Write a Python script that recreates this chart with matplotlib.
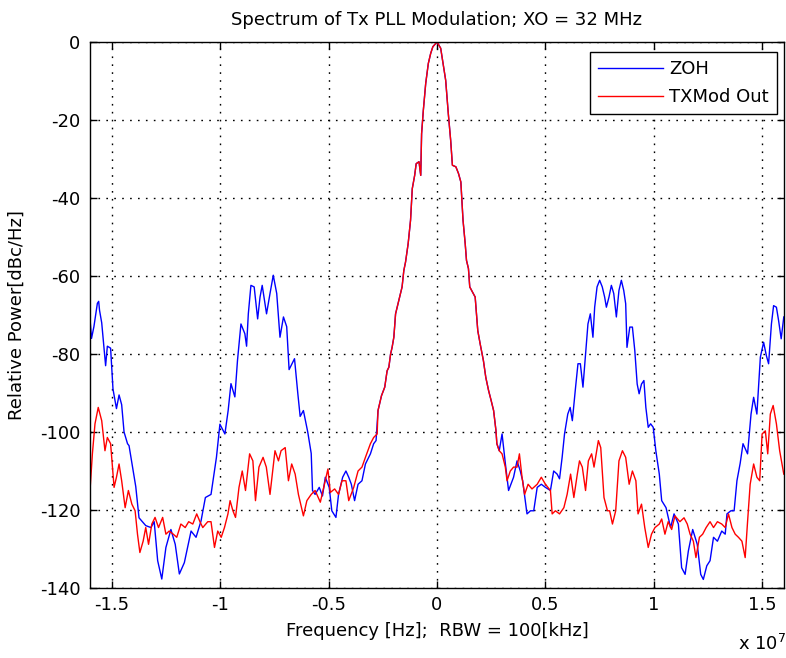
import numpy as np
import matplotlib
matplotlib.use("Agg")
import matplotlib.pyplot as plt

# ---------------- data (frequency in MHz, power in dBc/Hz) ----------------
# ZOH trace, left of the main lobe
zoh_left_f = [-16.0, -15.93, -15.82, -15.66, -15.60, -15.56, -15.46, -15.36, -15.28, -15.20,
              -15.05, -14.94, -14.78, -14.66, -14.54, -14.43, -14.27, -14.20, -14.04, -13.89,
              -13.74, -13.43, -13.19, -13.04, -12.88, -12.69, -12.50, -12.27, -12.07, -11.88,
              -11.65, -11.50, -11.34, -11.11, -10.88, -10.68, -10.42, -10.26, -10.17, -10.01,
              -9.78, -9.63, -9.50, -9.32, -9.20, -9.04, -8.86, -8.78, -8.70, -8.58,
              -8.43, -8.27, -8.16, -8.06, -7.86, -7.70, -7.55, -7.39, -7.24, -7.08,
              -6.93, -6.82, -6.57, -6.42, -6.31, -6.16, -5.96, -5.80, -5.74, -5.62,
              -5.43, -5.28, -5.15, -4.97, -4.85, -4.66, -4.54, -4.35, -4.20, -4.07,
              -3.95, -3.80, -3.64, -3.46, -3.30, -3.07, -2.92, -2.81]
zoh_left_db = [-71, -76, -73, -67, -66.5, -68.8, -72, -78, -83, -78,
               -78.5, -89, -94, -90.5, -93, -100, -103, -103.5, -109, -114,
               -122, -124, -124.5, -123, -133, -137.7, -129.6, -125, -128.8, -136.4,
               -133.5, -129.6, -125.4, -127, -122.8, -116.8, -116, -110, -106.5, -98,
               -100.5, -94.5, -87.6, -91, -81.7, -72.3, -74.8, -78, -69.7, -62.4,
               -62.8, -71, -65.4, -62.4, -69.7, -64.5, -59.8, -64.5, -75.7, -70.5,
               -73, -84, -81.2, -90, -96, -94.5, -100, -105.5, -115, -116,
               -114.2, -116.4, -111.6, -114.2, -120.2, -121.9, -116, -111.6, -110, -111.6,
               -113.4, -117.6, -113.4, -112.5, -108.2, -105.6, -103, -102.2]

# main lobe, where both traces coincide
core_f = [-2.72, -2.56, -2.41, -2.30, -2.22, -2.14, -2.07, -1.99, -1.91, -1.76,
          -1.68, -1.61, -1.53, -1.45, -1.33, -1.22, -1.14, -1.03, -0.96, -0.83,
          -0.75, -0.71, -0.63, -0.52, -0.40, -0.29, -0.19, 0.0, 0.17, 0.28,
          0.40, 0.52, 0.63, 0.71, 0.87, 0.99, 1.10, 1.14, 1.20, 1.30,
          1.36, 1.45, 1.51, 1.76, 1.88, 1.99, 2.14, 2.25, 2.38, 2.50,
          2.61, 2.72, 2.76, 2.87]
core_db = [-94.5, -90.7, -88.5, -84.3, -83.4, -80, -78.3, -75.7, -69.7, -66.3,
           -64.5, -62.8, -58.6, -56.4, -51.7, -45.7, -37.6, -34.2, -31.2, -30.7,
           -34.2, -23.5, -17.5, -10.6, -5.5, -2.9, -1.2, 0.0, -1.6, -5.5,
           -9.8, -18.3, -25.2, -31.6, -32, -33.7, -35.9, -39.7, -45.7, -51.7,
           -56, -58.1, -62.8, -65.4, -74, -77.4, -81.7, -86, -89.4, -92,
           -94.5, -99.7, -103, -104.8]

# ZOH trace, right of the main lobe
zoh_right_f = [3.00, 3.15, 3.30, 3.53, 3.69, 3.84, 3.95, 4.15, 4.31, 4.46,
               4.62, 4.81, 5.00, 5.23, 5.38, 5.54, 5.65, 5.77, 5.88, 6.03,
               6.14, 6.24, 6.39, 6.50, 6.61, 6.73, 6.85, 6.96, 7.07, 7.19,
               7.27, 7.38, 7.50, 7.62, 7.73, 7.81, 7.93, 8.04, 8.15, 8.27,
               8.39, 8.50, 8.61, 8.70, 8.76, 8.89, 9.01, 9.12, 9.23, 9.32,
               9.43, 9.54, 9.63, 9.74, 9.85, 9.97, 10.09, 10.25, 10.36, 10.56,
               10.77, 10.93, 11.13, 11.28, 11.44, 11.59, 11.79, 12.00, 12.16, 12.28,
               12.44, 12.59, 12.75, 12.93, 13.13, 13.29, 13.37, 13.55, 13.70, 13.83,
               13.98, 14.11, 14.32, 14.48, 14.60, 14.75, 14.91, 15.06, 15.19, 15.29,
               15.42, 15.52, 15.65, 15.75, 15.87, 15.99]
zoh_right_db = [-100.5, -108, -115, -111.6, -107.4, -110, -112.5, -121, -120.2, -120.2,
                -114.2, -113.4, -114.2, -115, -110, -110.8, -112, -106.5, -100.5, -95.4,
                -93.7, -97.1, -88.5, -82.5, -82.5, -88.5, -80, -72.3, -69.7, -75.7,
                -68, -62.8, -61.1, -62.8, -65.4, -68, -65.4, -62.4, -64.5, -70.5,
                -63.7, -61.1, -63.7, -67.1, -78.3, -73.1, -73.1, -79.1, -87.7, -90.2,
                -87.7, -86.8, -93.7, -98.8, -97.9, -98.8, -104.8, -110.8, -117.6, -119.4,
                -124.5, -121, -123.6, -134.8, -136.5, -130.5, -125, -128.8, -136.5, -137.8,
                -134.3, -133, -127, -128, -125.4, -126.2, -121, -120.2, -120.2, -112.5,
                -108, -103, -105.6, -95.4, -91.1, -95.4, -80.8, -77, -80.5, -82.5,
                -72.3, -67.6, -68, -71.4, -76.1, -70.5]

# TXMod Out trace, left of the main lobe
txmod_left_f = [-16.0, -15.89, -15.77, -15.62, -15.46, -15.31, -15.20, -15.05, -14.89, -14.78,
                -14.66, -14.54, -14.38, -14.23, -14.07, -13.92, -13.81, -13.70, -13.55, -13.43,
                -13.30, -13.15, -13.00, -12.84, -12.65, -12.50, -12.35, -12.16, -12.00, -11.81,
                -11.61, -11.45, -11.26, -11.08, -10.93, -10.80, -10.57, -10.42, -10.26, -10.11,
                -9.95, -9.80, -9.64, -9.54, -9.41, -9.29, -9.13, -8.98, -8.83, -8.64,
                -8.49, -8.37, -8.21, -8.02, -7.87, -7.70, -7.47, -7.31, -7.19, -7.00,
                -6.85, -6.70, -6.54, -6.39, -6.16, -6.00, -5.80, -5.62, -5.38, -5.19,
                -5.03, -4.92, -4.72, -4.54, -4.38, -4.20, -4.07, -3.84, -3.64, -3.46,
                -3.30, -3.07, -2.92, -2.76]
txmod_left_db = [-115, -105.6, -97.9, -93.7, -97.1, -104.8, -101.4, -103, -114.2, -111.6,
                 -108.2, -112.5, -119.4, -115, -118.5, -120.2, -126.2, -130.9, -128, -124.5,
                 -128.8, -123.6, -121.9, -124.5, -121.9, -126.2, -125.4, -126.2, -127, -123.6,
                 -124.5, -123, -123.6, -121, -123, -124.5, -123, -123, -129.6, -125.4,
                 -127, -124.5, -121, -117.6, -120.2, -121.9, -114.2, -110, -115, -105.6,
                 -107.4, -117.6, -109, -106.5, -109, -116, -104.8, -107.4, -104.8, -104,
                 -112.5, -108.2, -110.8, -116, -121.5, -117.6, -116, -115, -118, -113.4,
                 -109.5, -115.5, -114.6, -116, -112.5, -112.5, -117.6, -114.2, -110, -109,
                 -106.5, -103, -101.4, -100.5]

# TXMod Out trace, right of the main lobe
txmod_right_f = [3.00, 3.15, 3.23, 3.38, 3.53, 3.69, 3.80, 3.92, 4.04, 4.20,
                 4.38, 4.62, 4.81, 5.00, 5.23, 5.31, 5.46, 5.65, 5.85, 6.00,
                 6.16, 6.31, 6.47, 6.57, 6.70, 6.85, 6.98, 7.13, 7.24, 7.44,
                 7.55, 7.70, 7.86, 7.96, 8.09, 8.24, 8.39, 8.55, 8.70, 8.86,
                 9.01, 9.17, 9.27, 9.43, 9.58, 9.74, 9.89, 10.05, 10.25, 10.36,
                 10.51, 10.66, 10.82, 10.97, 11.20, 11.39, 11.54, 11.67, 11.82, 11.94,
                 12.10, 12.25, 12.41, 12.59, 12.75, 12.93, 13.13, 13.29, 13.44, 13.60,
                 13.75, 13.90, 14.06, 14.21, 14.32, 14.44, 14.60, 14.75, 14.88, 14.99,
                 15.14, 15.25, 15.37, 15.50, 15.65, 15.80, 15.99]
txmod_right_db = [-105.6, -109, -112.5, -110, -109, -109, -105.6, -111.6, -116, -113.4,
                  -114.6, -113.4, -111.6, -113.4, -115, -121, -120.2, -121, -119.4, -116,
                  -110.8, -116.8, -110.8, -107.4, -109, -115, -107.4, -105.6, -109, -102.2,
                  -104, -116.8, -120.2, -120.2, -123.6, -120.2, -107.4, -104.8, -106.5, -113.4,
                  -110, -112.5, -121, -118.5, -124.5, -129.6, -126.2, -124.5, -123.6, -122.3,
                  -126.2, -123, -125, -121.5, -123, -122, -123.6, -126.2, -128, -132.2,
                  -127, -126.2, -124.5, -123, -124.5, -123, -123.6, -124.5, -121, -124.5,
                  -126.2, -127, -128, -132.2, -123, -113.4, -108.2, -111.6, -112.5, -100.5,
                  -99.7, -105.6, -95.4, -93.2, -97.9, -104.8, -110.8]

series_labels = ["ZOH", "TXMod Out"]
series_colors = ["#0000ff", "#ff0000"]
x_ticks_scaled = [-1.5, -1, -0.5, 0, 0.5, 1, 1.5]
x_tick_labels = ["-1.5", "-1", "-0.5", "0", "0.5", "1", "1.5"]
y_ticks = [-140, -120, -100, -80, -60, -40, -20, 0]
y_tick_labels = ["-140", "-120", "-100", "-80", "-60", "-40", "-20", "0"]

# ---------------- assemble ----------------
zoh_f = np.array(zoh_left_f + core_f + zoh_right_f) * 1e6
zoh_db = np.array(zoh_left_db + core_db + zoh_right_db)
tx_f = np.array(txmod_left_f + core_f + txmod_right_f) * 1e6
tx_db = np.array(txmod_left_db + core_db + txmod_right_db)

plt.rcParams['font.family'] = ['DejaVu Sans']
fs = 13

fig = plt.figure(figsize=(7.86, 6.58), dpi=100)
W, H = 786, 658
L, R, T, B = 90, 784, 42, 588
ax = fig.add_axes([L / W, 1 - B / H, (R - L) / W, (B - T) / H])

ax.plot(zoh_f, zoh_db, color=series_colors[0], lw=1.0, label=series_labels[0])
ax.plot(tx_f, tx_db, color=series_colors[1], lw=1.0, label=series_labels[1])

ax.set_xlim(-1.6e7, 1.6e7)
ax.set_ylim(-140, 0)
ax.set_xticks(np.array(x_ticks_scaled) * 1e7)
ax.set_xticklabels(x_tick_labels)
ax.set_yticks(y_ticks)
ax.set_yticklabels(y_tick_labels)

ax.grid(True, color='black', linestyle=(0, (1.2, 4.5)), linewidth=1.0)
ax.tick_params(direction='in', top=True, right=True, length=5, width=1,
               labelsize=fs, colors='black')
ax.tick_params(axis='y', pad=7)
ax.tick_params(axis='x', pad=6)
for s in ax.spines.values():
    s.set_linewidth(1.0)
    s.set_color('black')

ax.set_title("Spectrum of Tx PLL Modulation; XO = 32 MHz", fontsize=fs, y=1.031, pad=0)
ax.set_xlabel("Frequency [Hz];  RBW = 100[kHz]", fontsize=fs)
ax.xaxis.set_label_coords(0.5, -0.063)
ax.set_ylabel("Relative Power[dBc/Hz]", fontsize=fs)
ax.yaxis.set_label_coords(-0.092, 0.5)

fig.text(762 / W, 1 - 650 / H, r"x 10$^{7}$", fontsize=fs, ha='center', va='baseline')

leg = ax.legend(loc='upper right', bbox_to_anchor=((777 - L) / (R - L), (B - 52) / (B - T)),
                fontsize=fs, frameon=True, fancybox=False, framealpha=1,
                edgecolor='black', handlelength=3.6, handletextpad=0.35,
                labelspacing=0.55, borderpad=0.45, borderaxespad=0)
leg.get_frame().set_linewidth(1.0)

fig.savefig("out.png", dpi=100)
